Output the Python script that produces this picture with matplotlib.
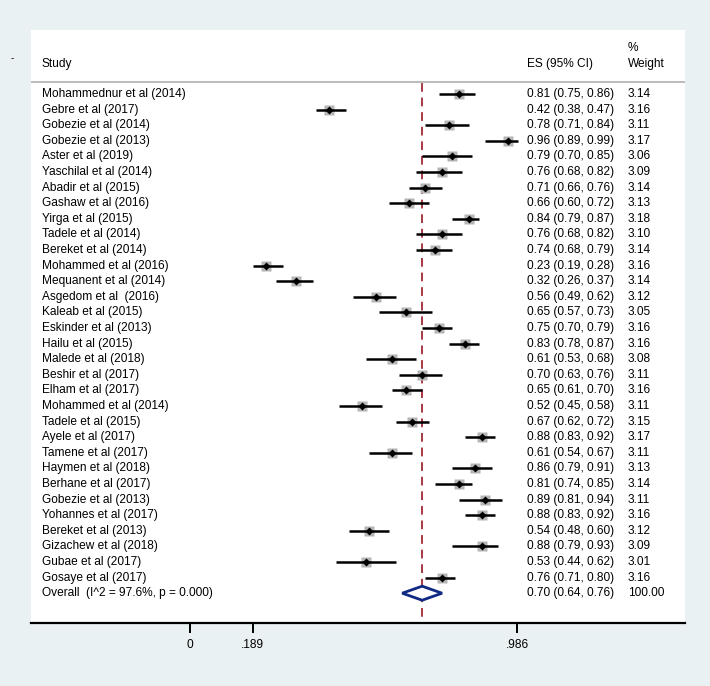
import matplotlib
matplotlib.use("Agg")
import matplotlib.pyplot as plt
import numpy as np

studies = ["Mohammednur et al (2014)", "Gebre et al (2017)", "Gobezie et al (2014)",
           "Gobezie et al (2013)", "Aster et al (2019)", "Yaschilal et al (2014)",
           "Abadir et al (2015)", "Gashaw et al (2016)", "Yirga et al (2015)",
           "Tadele et al (2014)", "Bereket et al (2014)", "Mohammed et al (2016)",
           "Mequanent et al (2014)", "Asgedom et al  (2016)", "Kaleab et al (2015)",
           "Eskinder et al (2013)", "Hailu et al (2015)", "Malede et al (2018)",
           "Beshir et al (2017)", "Elham et al (2017)", "Mohammed et al (2014)",
           "Tadele et al (2015)", "Ayele et al (2017)", "Tamene et al (2017)",
           "Haymen et al (2018)", "Berhane et al (2017)", "Gobezie et al (2013)",
           "Yohannes et al (2017)", "Bereket et al (2013)", "Gizachew et al (2018)",
           "Gubae et al (2017)", "Gosaye et al (2017)"]
es = [0.81, 0.42, 0.78, 0.96, 0.79, 0.76, 0.71, 0.66, 0.84, 0.76, 0.74, 0.23,
      0.32, 0.56, 0.65, 0.75, 0.83, 0.61, 0.70, 0.65, 0.52, 0.67, 0.88, 0.61,
      0.86, 0.81, 0.89, 0.88, 0.54, 0.88, 0.53, 0.76]
lo = [0.75, 0.38, 0.71, 0.89, 0.70, 0.68, 0.66, 0.60, 0.79, 0.68, 0.68, 0.19,
      0.26, 0.49, 0.57, 0.70, 0.78, 0.53, 0.63, 0.61, 0.45, 0.62, 0.83, 0.54,
      0.79, 0.74, 0.81, 0.83, 0.48, 0.79, 0.44, 0.71]
hi = [0.86, 0.47, 0.84, 0.99, 0.85, 0.82, 0.76, 0.72, 0.87, 0.82, 0.79, 0.28,
      0.37, 0.62, 0.73, 0.79, 0.87, 0.68, 0.76, 0.70, 0.58, 0.72, 0.92, 0.67,
      0.91, 0.85, 0.94, 0.92, 0.60, 0.93, 0.62, 0.80]
weights = [3.14, 3.16, 3.11, 3.17, 3.06, 3.09, 3.14, 3.13, 3.18, 3.10, 3.14, 3.16,
           3.14, 3.12, 3.05, 3.16, 3.16, 3.08, 3.11, 3.16, 3.11, 3.15, 3.17, 3.11,
           3.13, 3.14, 3.11, 3.16, 3.12, 3.09, 3.01, 3.16]
overall_label = "Overall  (I^2 = 97.6%, p = 0.000)"
overall_es, overall_lo, overall_hi, overall_w = 0.70, 0.64, 0.76, 100.00
xticks = [0, 0.189, 0.986]
xticklabels = ["0", ".189", ".986"]

plt.rcParams['font.family'] = ['Liberation Sans', 'DejaVu Sans']
FS = 8.6

W, H = 710, 686
fig = plt.figure(figsize=(W / 100, H / 100), dpi=100)
fig.patch.set_facecolor('#EAF1F3')

# axes covers the white panel
L, R, T, B = 31, 685, 30, 623
ax = fig.add_axes([L / W, 1 - B / H, (R - L) / W, (B - T) / H])
ax.set_facecolor('white')

# x scale: 0 -> px 190, 0.986 -> px 517
ppu = (517 - 190) / 0.986
ax.set_xlim((L - 190) / ppu, (R - 190) / ppu)
row0, step = 94.0, 15.6
ax.set_ylim((B - row0) / step, (T - row0) / step)

def xd(px):
    return (px - 190) / ppu

def yd(px):
    return (px - row0) / step

for s in ['top', 'left', 'right']:
    ax.spines[s].set_visible(False)
ax.spines['bottom'].set_linewidth(1.6)
ax.set_yticks([])
ax.set_xticks(xticks)
ax.set_xticklabels(xticklabels, fontsize=FS)
ax.tick_params(axis='x', direction='out', length=7.5, width=1.4, pad=4)

# header
ax.text(xd(42), yd(64), "Study", fontsize=FS, va='center', ha='left')
ax.text(xd(527), yd(64), "ES (95% CI)", fontsize=FS, va='center', ha='left')
ax.text(xd(628), yd(48), "%", fontsize=FS, va='center', ha='left')
ax.text(xd(628), yd(64), "Weight", fontsize=FS, va='center', ha='left')
ax.plot([ax.get_xlim()[0], ax.get_xlim()[1]], [yd(82), yd(82)], color='#BDBDBD',
        lw=1.5, clip_on=False, solid_capstyle='butt')
fig.text(12 / W, 1 - 58 / H, "-", fontsize=7, ha='center', va='center')

# overall dashed line
ax.plot([overall_es, overall_es], [yd(83), ax.get_ylim()[0]], color='#A83A44',
        lw=1.4, ls=(0, (4.5, 3)), zorder=1)

rows = np.arange(len(studies))
for i in rows:
    ax.plot([lo[i], hi[i]], [i, i], color='black', lw=1.8, zorder=3,
            solid_capstyle='butt')
    ax.plot(es[i], i, marker='s', ms=4.0 * np.sqrt(weights[i]), color='#B5B5B5',
            mec='none', zorder=2)
    ax.plot(es[i], i, marker='D', ms=4.3, color='black', mec='none', zorder=4)
    ax.text(xd(42), i, studies[i], fontsize=FS, va='center', ha='left')
    ax.text(xd(527), i, f"{es[i]:.2f} ({lo[i]:.2f}, {hi[i]:.2f})", fontsize=FS,
            va='center', ha='left')
    ax.text(xd(628), i, f"{weights[i]:.2f}", fontsize=FS, va='center', ha='left')

io = len(studies)
dh = 0.45
ax.fill([overall_lo, overall_es, overall_hi, overall_es],
        [io, io - dh, io, io + dh], facecolor='white', edgecolor='#102A83',
        lw=2.0, zorder=3)
ax.text(xd(42), io, overall_label, fontsize=FS, va='center', ha='left')
ax.text(xd(527), io, f"{overall_es:.2f} ({overall_lo:.2f}, {overall_hi:.2f})",
        fontsize=FS, va='center', ha='left')
ax.text(xd(628), io, f"{overall_w:.2f}", fontsize=FS, va='center', ha='left')

fig.savefig("out.png", dpi=100, facecolor=fig.get_facecolor())
